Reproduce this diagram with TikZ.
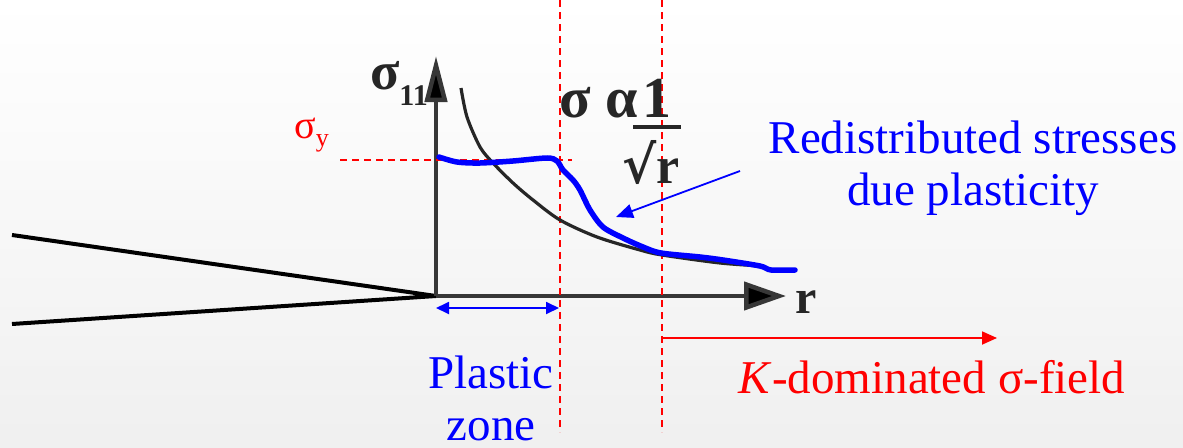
\documentclass[tikz,border=0pt]{standalone}
\usepackage{fontspec}
\setmainfont{Liberation Serif}
\newfontfamily\radicalfont{DejaVu Serif}
\usetikzlibrary{arrows.meta,positioning}
\definecolor{plasticblue}{RGB}{0,0,255}
\definecolor{fieldred}{RGB}{255,0,0}
\definecolor{axisgray}{RGB}{55,55,55}
\tikzset{
  guideline/.style={fieldred,line width=1.6pt,dash pattern=on 7pt off 5pt},
  axisline/.style={axisgray,line width=4.5pt},
  bigtext/.style={font=\fontsize{47}{52}\selectfont},
  boldlabel/.style={inner sep=0,text=black!85,font=\fontsize{#1}{#1}\selectfont\bfseries},
}

\begin{document}
\begin{tikzpicture}[x=1pt,y=-1pt]
    % Background
    \shade[top color=white,bottom color=black!6] (0,0) rectangle (1183,447);
    \useasboundingbox (0,0) rectangle (1183,447);

    % Crack faces and axes
    \coordinate (tip) at (436,296);
    \coordinate (upper) at (12,235);
    \coordinate (lower) at (12,324);
    \coordinate (ytop) at (436,56);
    \coordinate (xend) at (786,296);
    \draw[line width=4pt] (upper) -- (tip) -- (lower);
    \draw[axisline,-{Triangle[length=46pt,width=22pt,fill=black]}] (tip) -- (ytop);
    \draw[axisline,-{Triangle[length=42pt,width=28pt,fill=black]}] (tip) -- (xend);
    \node[boldlabel=54,anchor=base east] (sig11) at (428,89)
        {σ\raisebox{-16pt}{\fontsize{30}{30}\selectfont 11}};
    \node[boldlabel=48,anchor=base west] (rlab) at (795,313) {r};

    % Guide lines
    \coordinate (pz top) at (560,0);
    \coordinate (pz bot) at (560,432);
    \coordinate (kf top) at (662,0);
    \coordinate (kf bot) at (662,432);
    \coordinate (sy left) at (340,160);
    \coordinate (sy right) at (572,160);
    \draw[guideline] (pz top) -- (pz bot);
    \draw[guideline] (kf top) -- (kf bot);
    \draw[guideline] (sy left) -- (sy right);
    \node[anchor=base west,inner sep=0,text=fieldred,font=\fontsize{40}{40}\selectfont] (sigy) at (294,138)
        {σ\raisebox{-8pt}{\fontsize{26}{26}\selectfont y}};

    % Elastic singular field
    \draw[line width=3.2pt,black!85] plot[smooth] coordinates {
        (461,88) (467,117) (480,147) (493,163) (513,183) (533,200)
        (560,220) (597,237) (640,250) (662,255) (720,263) (762,266)};
    \node[boldlabel=58,anchor=base west] (prop) at (559,117) {σ α};
    \node[boldlabel=58,anchor=base] (num) at (657,117) {1};
    \node[boldlabel=52,anchor=base] (den) at (651,183) {{\radicalfont √}r};
    \draw[line width=3.2pt,black!85] (633,127) -- (681,127);

    % Redistributed stresses
    \draw[line width=5.5pt,plasticblue,line cap=round] plot[smooth,tension=0.5] coordinates {
        (439,157) (457,162) (480,163) (513,161) (547,158) (557,161)
        (563,170) (573,180) (580,190) (590,210) (603,227) (623,238)
        (643,247) (661,253) (700,257) (723,260) (760,266) (771,270) (795,270)};
    \node[bigtext,text=plasticblue,align=center] (redist) at (973,168) {Redistributed stresses\\due plasticity};
    \coordinate (redist tail) at (740,171);
    \coordinate (redist head) at (616,217);
    \draw[plasticblue,line width=1.8pt,-{Triangle[length=17pt,width=14pt]}] (redist tail) -- (redist head);

    % Zones
    \coordinate (pz start) at (436,308);
    \coordinate (pz end) at (559,308);
    \draw[plasticblue,line width=1.8pt,{Triangle[length=13pt,width=12pt]}-{Triangle[length=13pt,width=12pt]}] (pz start) -- (pz end);
    \node[bigtext,text=plasticblue,align=center,anchor=north] (plastic) at (491,352) {Plastic\\zone};
    \coordinate (kf start) at (662,338);
    \coordinate (kf end) at (997,338);
    \draw[fieldred,line width=1.8pt,-{Triangle[length=15pt,width=13pt]}] (kf start) -- (kf end);
    \node[bigtext,text=fieldred,anchor=base] (kfield) at (932,393) {\textit{K}-dominated σ-field};
\end{tikzpicture}
\end{document}
